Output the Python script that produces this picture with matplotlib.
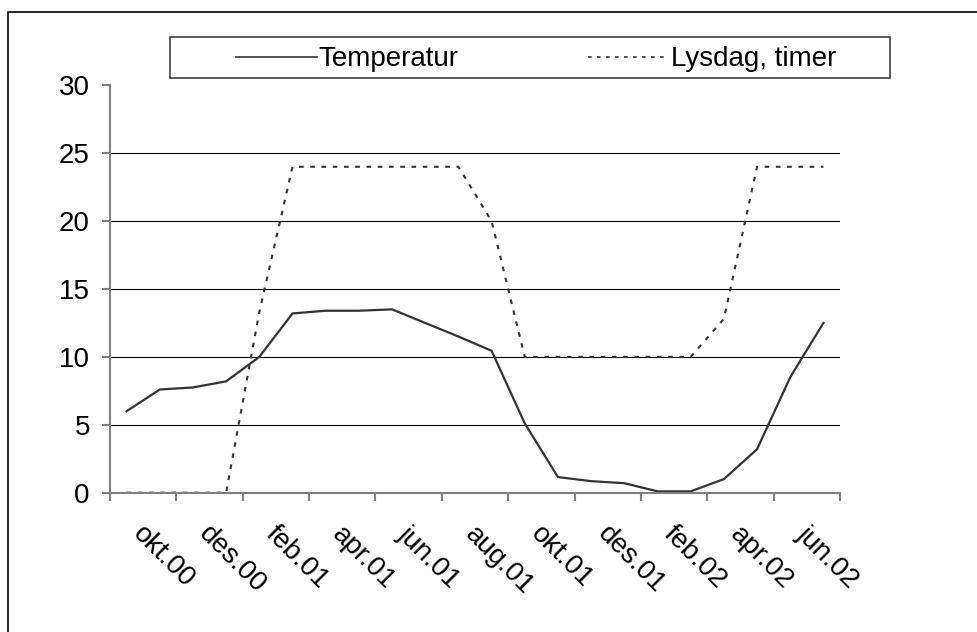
"""
Temperatur og lysdag per måned, okt.00 - jul.02 (Excel-style line chart).
"""

from __future__ import annotations

import matplotlib

matplotlib.use("Agg")

import matplotlib.pyplot as plt
from matplotlib.lines import Line2D
from matplotlib.patches import Rectangle
from matplotlib.transforms import ScaledTranslation

months = [
    "okt.00", "nov.00", "des.00", "jan.01", "feb.01", "mar.01", "apr.01", "mai.01",
    "jun.01", "jul.01", "aug.01", "sep.01", "okt.01", "nov.01", "des.01", "jan.02",
    "feb.02", "mar.02", "apr.02", "mai.02", "jun.02", "jul.02",
]
temperature = [6.0, 7.6, 7.75, 8.2, 10.0, 13.2, 13.4, 13.4, 13.5, 12.5, 11.5,
               10.45, 5.1, 1.15, 0.85, 0.7, 0.1, 0.1, 1.0, 3.2, 8.5, 12.5]
daylight = [0, 0, 0, 0, 13.3, 24, 24, 24, 24, 24, 24,
            20, 10, 10, 10, 10, 10, 10, 12.8, 24, 24, 24]
y_ticks = [0, 5, 10, 15, 20, 25, 30]
series_names = ["Temperatur", "Lysdag, timer"]

W, H = 977, 632
FONT_SIZE = 20
LINE_COLOR = "#333333"
AXIS_COLOR = "#808080"
DOT_STYLE = (0, (2.2, 3.2))


def main() -> None:
    plt.rcParams["font.family"] = ["Liberation Sans", "DejaVu Sans"]
    plt.rcParams["font.size"] = FONT_SIZE

    fig = plt.figure(figsize=(W / 100, H / 100), dpi=100)
    ax = fig.add_axes([110 / W, 1 - 492.7 / H, 730 / W, (492.7 - 85.3) / H])

    x = list(range(len(months)))
    ax.plot(x, temperature, color=LINE_COLOR, lw=1.6, solid_joinstyle="miter")
    ax.plot(x, daylight, color=LINE_COLOR, lw=1.5, linestyle=DOT_STYLE)

    ax.set_xlim(-0.5, len(months) - 0.5)
    ax.set_ylim(0, 30)

    # grid lines (not at the top value)
    for v in y_ticks[1:-1]:
        ax.axhline(v, color="black", lw=0.8, zorder=0)

    for side in ("top", "right"):
        ax.spines[side].set_visible(False)
    for side in ("left", "bottom"):
        ax.spines[side].set_color(AXIS_COLOR)
        ax.spines[side].set_linewidth(1.5)

    ax.set_yticks(y_ticks)
    ax.tick_params(axis="y", length=6, width=1.5, color=AXIS_COLOR, pad=8.5,
                   labelsize=FONT_SIZE)

    # tick marks between every second category
    ax.set_xticks([i - 0.5 for i in range(0, len(months) + 1, 2)])
    ax.set_xticklabels([])
    ax.tick_params(axis="x", which="major", length=6, width=1.5, color=AXIS_COLOR)

    # category labels, rotated like Excel does it
    shift = ScaledTranslation(19.4 / 100, -28.5 / 100, fig.dpi_scale_trans)
    for k in x[::2]:
        ax.text(k, 0, months[k], transform=ax.get_xaxis_transform() + shift,
                rotation=-45, ha="left", va="top", rotation_mode="anchor",
                fontsize=FONT_SIZE)

    # outer chart border: only its left and top edges fall inside the picture
    left, top = 8.3 / W, 1 - 11.7 / H
    fig.add_artist(Line2D([left, left, 1.0], [0.0, top, top],
                          transform=fig.transFigure, color="black", lw=1.2))

    # legend box
    fig.patches.append(Rectangle((170 / W, 1 - 78.3 / H), 720 / W, 41.6 / H,
                                 transform=fig.transFigure, fill=False,
                                 ec="#404040", lw=1.2))
    handles = [
        Line2D([], [], color=LINE_COLOR, lw=1.2),
        Line2D([], [], color=LINE_COLOR, lw=1.2, linestyle=DOT_STYLE),
    ]
    fig.legend(handles, series_names, ncol=2, frameon=False, loc="center",
               bbox_to_anchor=(536 / W, 1 - 59.5 / H), fontsize=FONT_SIZE,
               handlelength=2.92, handletextpad=0.08, columnspacing=4.64,
               borderpad=0, borderaxespad=0)

    fig.savefig("out.png", dpi=100)


if __name__ == "__main__":
    main()
